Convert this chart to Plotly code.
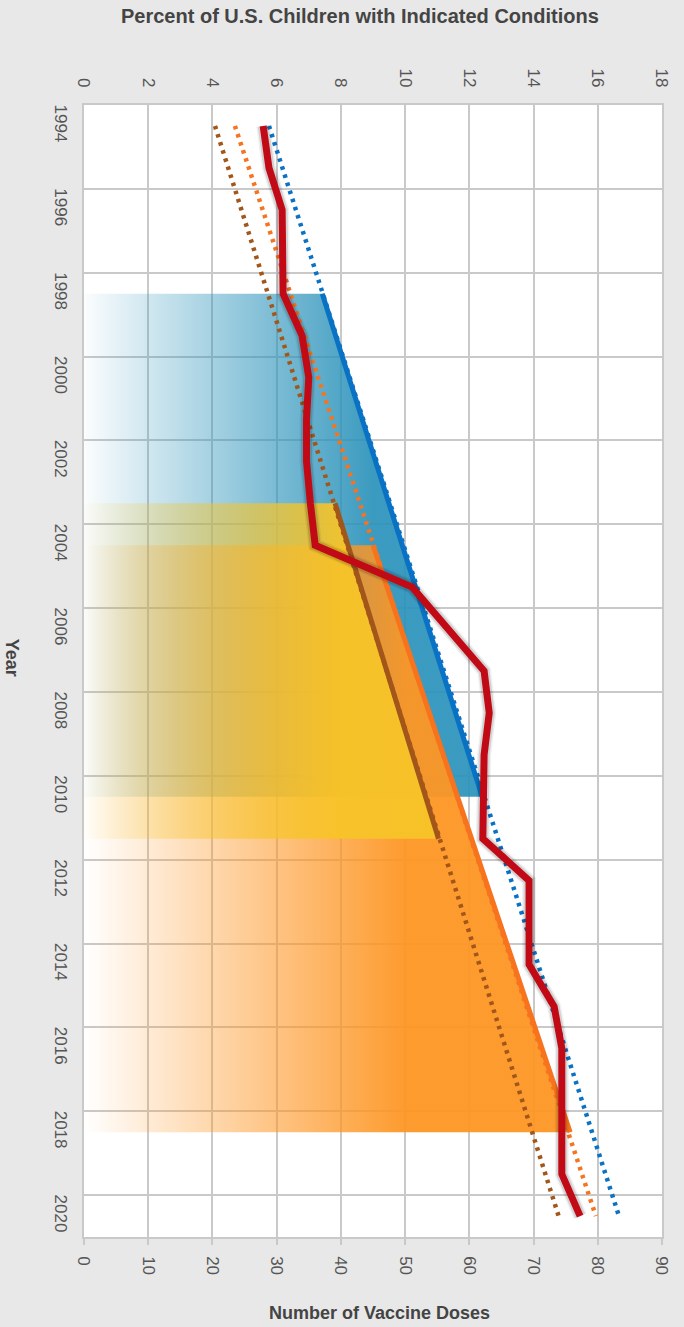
import plotly.graph_objects as go

# ---------------- data ----------------
years = list(range(1994, 2021))
year_ticks = list(range(1994, 2021, 2))
year_grid = [1995.5 + 2 * i for i in range(13)]

# Percent of U.S. children with indicated conditions (top axis)
percent_conditions = [5.58, 5.76, 6.17, 6.17, 6.2, 6.79, 7.0, 6.93, 6.93, 7.05,
                      7.2, 10.22, 11.33, 12.46, 12.62, 12.46, 12.44, 12.42, 13.86,
                      13.86, 13.86, 14.64, 14.88, 14.88, 14.88, 14.88, 15.45]

# Number of vaccine doses (bottom axis) - schedule periods
blue_years = [1998, 2010]
blue_doses = [37.1, 62.0]
yellow_years = [2003, 2011]
yellow_doses = [39.1, 55.2]
orange_years = [2004, 2018]
orange_doses = [45.0, 75.7]

# linear trendlines (doses axis), endpoints
trend_years = [1994, 2020]
blue_trend = [28.8, 83.3]
orange_trend = [23.5, 79.7]
brown_trend = [20.4, 73.9]

dose_ticks = list(range(0, 91, 10))
pct_ticks = list(range(0, 19, 2))

# ---------------- styling ----------------
GRID = "#c9c9c9"
TXT = "#555555"
TITLE = "#444444"
FONT = "Liberation Sans, Arial, sans-serif"

fig = go.Figure()


def area(xv, yv, rgb, stop, a0, a1):
    fig.add_trace(go.Scatter(
        x=xv, y=yv, mode="lines", fill="tozerox",
        line=dict(width=0),
        fillgradient=dict(type="horizontal", start=0, stop=stop,
                          colorscale=[[0, f"rgba({rgb},{a0})"],
                                      [1, f"rgba({rgb},{a1})"]]),
        hoverinfo="skip", showlegend=False, xaxis="x", yaxis="y"))


area(blue_doses, blue_years, "42,146,186", 45, 0.02, 0.92)
area(orange_doses, orange_years, "253,150,36", 50, 0.0, 0.95)
area(yellow_doses, yellow_years, "247,196,40", 40, 0.02, 0.95)

# solid edges
for xv, yv, col in [(blue_doses, blue_years, "#0a72c4"),
                    (orange_doses, orange_years, "#f7731e"),
                    (yellow_doses, yellow_years, "#a2561a")]:
    fig.add_trace(go.Scatter(x=xv, y=yv, mode="lines",
                             line=dict(color=col, width=5),
                             hoverinfo="skip", showlegend=False))

# dotted trendlines
for tv, col in [(blue_trend, "#0a72c4"), (orange_trend, "#f7731e"),
                (brown_trend, "#a2561a")]:
    fig.add_trace(go.Scatter(x=tv, y=trend_years, mode="lines",
                             line=dict(color=col, width=4.5, dash="3.5px,5px"),
                             hoverinfo="skip", showlegend=False))

# red line with soft shadow
for w, c in [(14, "rgba(0,0,0,0.06)"), (11, "rgba(0,0,0,0.12)")]:
    fig.add_trace(go.Scatter(x=percent_conditions, y=years, mode="lines",
                             line=dict(color=c, width=w),
                             xaxis="x2", yaxis="y",
                             hoverinfo="skip", showlegend=False))
fig.add_trace(go.Scatter(x=percent_conditions, y=years, mode="lines",
                         line=dict(color="#c20a16", width=7),
                         xaxis="x2", yaxis="y",
                         hoverinfo="skip", showlegend=False))

fig.update_layout(
    width=684, height=1327,
    margin=dict(l=84, r=22, t=105, b=90),
    paper_bgcolor="#e8e8e8", plot_bgcolor="white",
    font=dict(family=FONT, color=TXT, size=16),
    xaxis=dict(range=[0, 90], tickvals=dose_ticks, tickangle=90,
               showgrid=True, gridcolor=GRID, gridwidth=1.5,
               showline=True, linecolor=GRID, linewidth=1.5, mirror=True,
               ticks="outside", ticklen=6, tickcolor=GRID, tickwidth=1.5,
               ticklabelstandoff=8, zeroline=False,
               tickfont=dict(size=17, color=TXT)),
    xaxis2=dict(range=[0, 18], tickvals=pct_ticks, tickangle=90,
                overlaying="x", side="top", showgrid=False, zeroline=False,
                ticks="", ticklabelstandoff=14,
                tickfont=dict(size=17, color=TXT)),
    yaxis=dict(range=[2020.5, 1993.5], tickvals=year_ticks, tickangle=90,
               showgrid=False, zeroline=False,
               showline=True, linecolor=GRID, linewidth=1.5, mirror=True,
               ticks="", ticklabelstandoff=7,
               minor=dict(tickvals=year_grid, showgrid=True,
                          gridcolor=GRID, gridwidth=1.5, ticks=""),
               tickfont=dict(size=17, color=TXT)),
    annotations=[
        dict(text="<b>Percent of U.S. Children with Indicated Conditions</b>",
             xref="paper", yref="paper", x=0.4775, y=1.0786,
             xanchor="center", yanchor="middle", showarrow=False,
             font=dict(size=20, color=TITLE, family=FONT)),
        dict(text="<b>Number of Vaccine Doses</b>",
             xref="paper", yref="paper", x=0.512, y=-0.0671,
             xanchor="center", yanchor="middle", showarrow=False,
             font=dict(size=18, color=TITLE, family=FONT)),
        dict(text="<b>Year</b>", textangle=90,
             xref="paper", yref="paper", x=-0.125, y=0.512,
             xanchor="center", yanchor="middle", showarrow=False,
             font=dict(size=18, color=TITLE, family=FONT)),
    ],
)

fig.write_html(
    "out.html",
    config={"displayModeBar": False},
    post_script="document.body.style.margin='0';"
                "document.body.style.background='#e8e8e8';"
                "document.body.style.overflow='hidden';",
)
